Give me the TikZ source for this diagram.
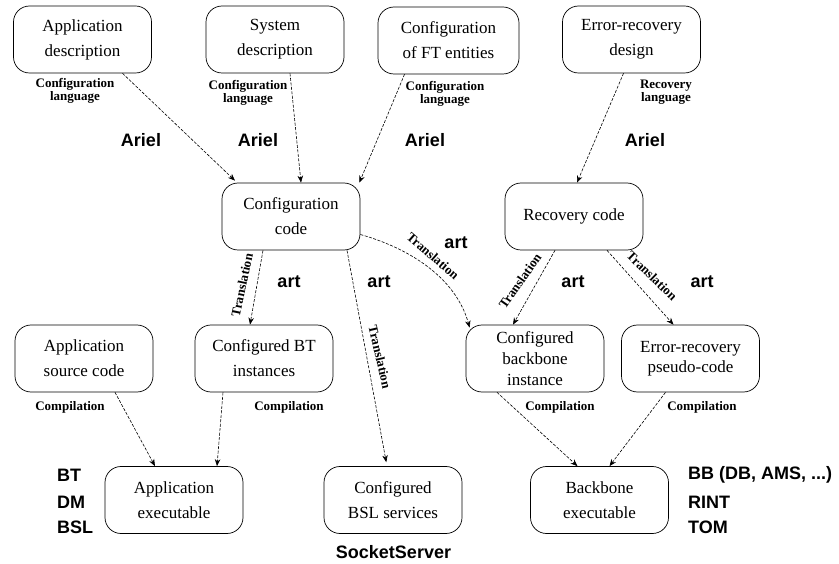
\documentclass[tikz,border=0pt]{standalone}
\usepackage{fontspec}
\setmainfont{Liberation Serif}
\newfontfamily\headfont{Liberation Sans}
\usetikzlibrary{arrows.meta,calc}
\begin{document}
\begin{tikzpicture}[x=1pt,y=-1pt,
  box/.style={draw,line width=0.7pt,rounded corners=16pt,minimum width=138pt,minimum height=67pt,
    inner sep=0pt,align=center,font=\fontsize{17}{25}\selectfont},
  flow/.style={line width=0.6pt,dash pattern=on 3pt off 1.5pt,-{Stealth[length=7pt,width=5.5pt]}},
  small/.style={align=center,inner sep=0pt,font=\fontsize{13}{11.5}\selectfont\bfseries},
  tool/.style={inner sep=0pt,font=\fontsize{18}{20}\selectfont\headfont\bfseries},
  side/.style={tool,anchor=west}]
\useasboundingbox (0,0) rectangle (839,564);
% nodes
\node[box] (appdesc) at (82.5,39.5) {Application\\description};
\node[box] (sysdesc) at (275,39.5) {System\\description};
\node[box,minimum width=141pt] (ftconf) at (448.5,40.5) {Configuration\\of FT entities};
\node[box] (erdesign) at (631.5,39.5) {Error-recovery\\design};
\node[box] (confcode) at (291,216.5) {Configuration\\code};
\node[box] (reccode) at (574,216.5) {Recovery code};
\node[box] (appsrc) at (84,358.5) {Application\\source code};
\node[box] (btinst) at (264,358.5) {Configured BT\\instances};
\node[box,font=\fontsize{17}{21}\selectfont] (bbinst) at (535,358.5) {Configured\\backbone\\instance};
\node[box,font=\fontsize{17}{20}\selectfont] (erpseudo) at (690.5,358.5) {Error-recovery\\pseudo-code};
\node[box] (appexe) at (174,500) {Application\\executable};
\node[box] (bslserv) at (393,500) {Configured\\BSL services};
\node[box] (bbexe) at (599.5,500) {Backbone\\executable};
% connectors
\draw[flow] ([xshift=40pt]appdesc.south) -- ([xshift=-56pt,yshift=2pt]confcode.north);
\draw[flow] ([xshift=15pt]sysdesc.south) -- ([xshift=10pt]confcode.north);
\draw[flow] ([xshift=-44pt]ftconf.south) -- ([xshift=-1pt]confcode.north east);
\draw[flow] ([xshift=-8pt]erdesign.south) -- ([xshift=3pt]reccode.north);
\draw[flow] ([xshift=-28pt]confcode.south) -- ([xshift=-14pt]btinst.north);
\draw[flow,shorten >=4pt] ([xshift=56pt]confcode.south) -- ([xshift=-6pt]bslserv.north);
\coordinate (cstart) at ([yshift=-18pt]confcode.east);
\coordinate (cend) at ([xshift=4pt,yshift=-3pt]bbinst.north west);
\draw[flow] (cstart) .. controls (405,247) and (455,275) .. (cend);
\draw[flow] ([xshift=-19pt]reccode.south) -- ([xshift=-22pt]bbinst.north);
\draw[flow] ([xshift=33pt]reccode.south) -- ([xshift=-17pt]erpseudo.north);
\draw[flow] ([xshift=31pt]appsrc.south) -- ([xshift=-19pt]appexe.north);
\draw[flow] ([xshift=-41pt]btinst.south) -- ([xshift=43pt]appexe.north);
\draw[flow] ([xshift=-38pt]bbinst.south) -- ([xshift=-22pt]bbexe.north);
\draw[flow] ([xshift=-25pt]erpseudo.south) -- ([xshift=10pt]bbexe.north);
% small labels
\node[small] (l1) at (75,91) {Configuration\\language};
\node[small] (l2) at (248,93) {Configuration\\language};
\node[small] (l3) at (445,94) {Configuration\\language};
\node[small] (l4) at (666,92.5) {Recovery\\language};
\node[small,rotate=78] (t1) at (242,285) {Translation};
\node[small,rotate=-77] (t2) at (380,357) {Translation};
\node[small,rotate=-41] (t3) at (433,256) {Translation};
\node[small,rotate=55] (t4) at (520,281) {Translation};
\node[small,rotate=-44] (t5) at (652,276) {Translation};
\node[small] (c1) at (70,407) {Compilation};
\node[small] (c2) at (289,407) {Compilation};
\node[small] (c3) at (560,407) {Compilation};
\node[small] (c4) at (702,407) {Compilation};
% tool labels
\node[tool] (a1) at (141,140) {Ariel};
\node[tool] (a2) at (258,140) {Ariel};
\node[tool] (a3) at (425,140) {Ariel};
\node[tool] (a4) at (645,140) {Ariel};
\node[tool] (r1) at (289,282) {art};
\node[tool] (r2) at (379,282) {art};
\node[tool] (r3) at (456,243) {art};
\node[tool] (r4) at (573,282) {art};
\node[tool] (r5) at (702,282) {art};
\node[side] (bt) at (57,475) {BT};
\node[side] (dm) at (57,502) {DM};
\node[side] (bsl) at (57,527) {BSL};
\node[tool] (sock) at (393.5,552) {SocketServer};
\node[side] (bb) at (688,475) {BB (DB, AMS, ...)};
\node[side] (rint) at (688,502) {RINT};
\node[side] (tom) at (688,527) {TOM};
\end{tikzpicture}
\end{document}
